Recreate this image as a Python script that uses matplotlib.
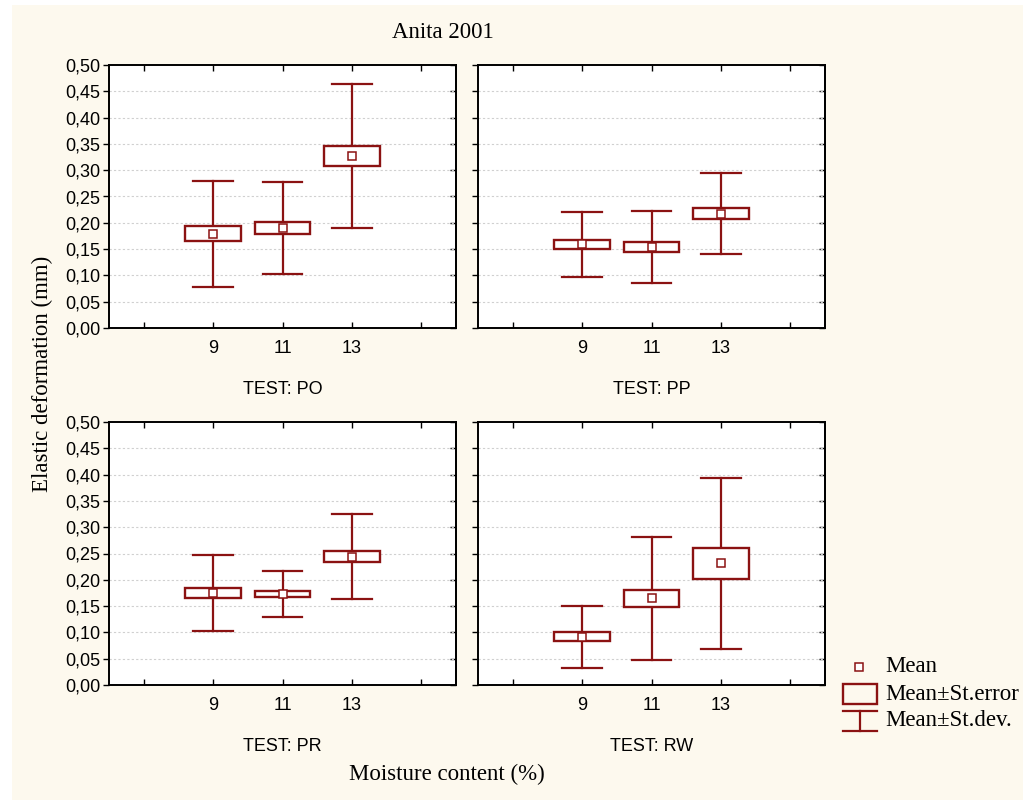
import matplotlib
matplotlib.use('Agg')
import matplotlib.pyplot as plt
from matplotlib.patches import Rectangle
from matplotlib.ticker import FuncFormatter, FixedLocator

TESTS = ['PO', 'PP', 'PR', 'RW']
MOISTURE = ['9', '11', '13']

# mean, standard error, standard deviation per test (order: 9, 11, 13 %)
MEAN_PO = [0.179, 0.190, 0.327]
SE_PO = [0.0143, 0.0120, 0.0193]
SD_PO = [0.1008, 0.0875, 0.1367]

MEAN_PP = [0.159, 0.154, 0.217]
SE_PP = [0.0087, 0.0095, 0.0107]
SD_PP = [0.0615, 0.0685, 0.0770]

MEAN_PR = [0.175, 0.173, 0.244]
SE_PR = [0.0100, 0.0057, 0.0111]
SD_PR = [0.0720, 0.0428, 0.0805]

MEAN_RW = [0.0915, 0.165, 0.231]
SE_RW = [0.0085, 0.0165, 0.0302]
SD_RW = [0.0593, 0.1173, 0.1623]

Y_TICKS = [0.00, 0.05, 0.10, 0.15, 0.20, 0.25, 0.30, 0.35, 0.40, 0.45, 0.50]

DARK_RED = '#8b1212'
BG = '#fdf9ee'
SANS = 'Liberation Sans'
SERIF = 'Liberation Serif'
SERIF_SIZE = 16.5

BOX_WIDTH = 0.8
CAP_WIDTH = 0.57

data = {
  'PO': (MEAN_PO, SE_PO, SD_PO),
  'PP': (MEAN_PP, SE_PP, SD_PP),
  'PR': (MEAN_PR, SE_PR, SD_PR),
  'RW': (MEAN_RW, SE_RW, SD_RW),
}

fig = plt.figure(figsize=(10.23, 8.0), dpi=100)
fig.patch.set_facecolor('white')
fig.patches.append(Rectangle((12 / 1023, 0), 1 - 12 / 1023, 1 - 5 / 800,
                             transform=fig.transFigure, facecolor=BG,
                             edgecolor='none', zorder=-10))

W = 347 / 1023
H = 263 / 800
lefts = [109 / 1023, 478 / 1023]
bottoms = [1 - 328 / 800, 1 - 685 / 800]
positions = [2, 3, 4]

def comma_fmt(v, pos):
  return ('%.2f' % v).replace('.', ',')

for i, test in enumerate(TESTS):
  row, col = divmod(i, 2)
  ax = fig.add_axes([lefts[col], bottoms[row], W, H])
  ax.set_facecolor('white')
  means, ses, sds = data[test]

  for x, m, se, sd in zip(positions, means, ses, sds):
    ax.plot([x, x], [m - sd, m + sd], color=DARK_RED, lw=1.6, zorder=3)
    ax.plot([x - CAP_WIDTH / 2, x + CAP_WIDTH / 2], [m + sd, m + sd], color=DARK_RED, lw=1.6, zorder=3)
    ax.plot([x - CAP_WIDTH / 2, x + CAP_WIDTH / 2], [m - sd, m - sd], color=DARK_RED, lw=1.6, zorder=3)
    ax.add_patch(Rectangle((x - BOX_WIDTH / 2, m - se), BOX_WIDTH, 2 * se,
                           facecolor='white', edgecolor=DARK_RED, lw=1.7, zorder=4))
    ax.plot([x], [m], marker='s', markersize=6, markerfacecolor='white',
            markeredgecolor=DARK_RED, markeredgewidth=1.1, zorder=5)

  ax.set_xlim(0.5, 5.5)
  ax.set_ylim(0, 0.5)
  ax.xaxis.set_major_locator(FixedLocator([1, 2, 3, 4, 5]))
  ax.set_xticklabels([''] + MOISTURE + [''], fontsize=13, family=SANS)
  ax.tick_params(axis='x', direction='in', top=True, length=4, width=1, pad=9)
  ax.set_yticks(Y_TICKS)
  ax.yaxis.set_major_formatter(FuncFormatter(comma_fmt))
  ax.tick_params(axis='y', direction='out', length=4, width=1, pad=2)
  for lab in ax.get_yticklabels():
    lab.set_fontsize(13)
    lab.set_family(SANS)
  if col == 1:
    ax.tick_params(axis='y', labelleft=False)
  sec = ax.secondary_yaxis('right')
  sec.set_yticks(Y_TICKS)
  sec.tick_params(direction='in', length=4, width=1, labelright=False)
  for s in sec.spines.values():
    s.set_linewidth(1.4)

  for y in Y_TICKS[1:-1]:
    ax.axhline(y, color='#d0d0d0', lw=0.8, linestyle=(0, (2, 2)), zorder=1)
  for s in ax.spines.values():
    s.set_linewidth(1.4)

  ax.text(0.5, -0.235, 'TEST: ' + test, transform=ax.transAxes, ha='center',
          va='center', fontsize=13, family=SANS)

fig.text(443 / 1023, 1 - 32 / 800, 'Anita 2001', ha='center', va='center',
         fontsize=SERIF_SIZE, family=SERIF)
fig.text(42 / 1023, 1 - 374 / 800, 'Elastic deformation (mm)', ha='center',
         va='center', rotation=90, fontsize=SERIF_SIZE, family=SERIF)
fig.text(447 / 1023, 1 - 774 / 800, 'Moisture content (%)', ha='center',
         va='center', fontsize=SERIF_SIZE, family=SERIF)

# legend drawn in figure pixel coordinates
leg = fig.add_axes([0, 0, 1, 1], facecolor='none')
leg.set_xlim(0, 1023)
leg.set_ylim(800, 0)
leg.axis('off')
leg.plot([859], [667], marker='s', markersize=6, markerfacecolor='white',
         markeredgecolor=DARK_RED, markeredgewidth=1.1)
leg.add_patch(Rectangle((843, 684), 34, 20, facecolor='none', edgecolor=DARK_RED, lw=1.7))
leg.plot([843, 877], [711, 711], color=DARK_RED, lw=1.6)
leg.plot([843, 877], [731, 731], color=DARK_RED, lw=1.6)
leg.plot([860, 860], [711, 731], color=DARK_RED, lw=1.6)
for yy, txt in [(667, 'Mean'), (694, 'Mean\u00b1St.error'), (720, 'Mean\u00b1St.dev.')]:
  leg.text(885, yy, txt, ha='left', va='center', fontsize=SERIF_SIZE, family=SERIF)

fig.savefig('out.png', dpi=100, facecolor=fig.get_facecolor())
